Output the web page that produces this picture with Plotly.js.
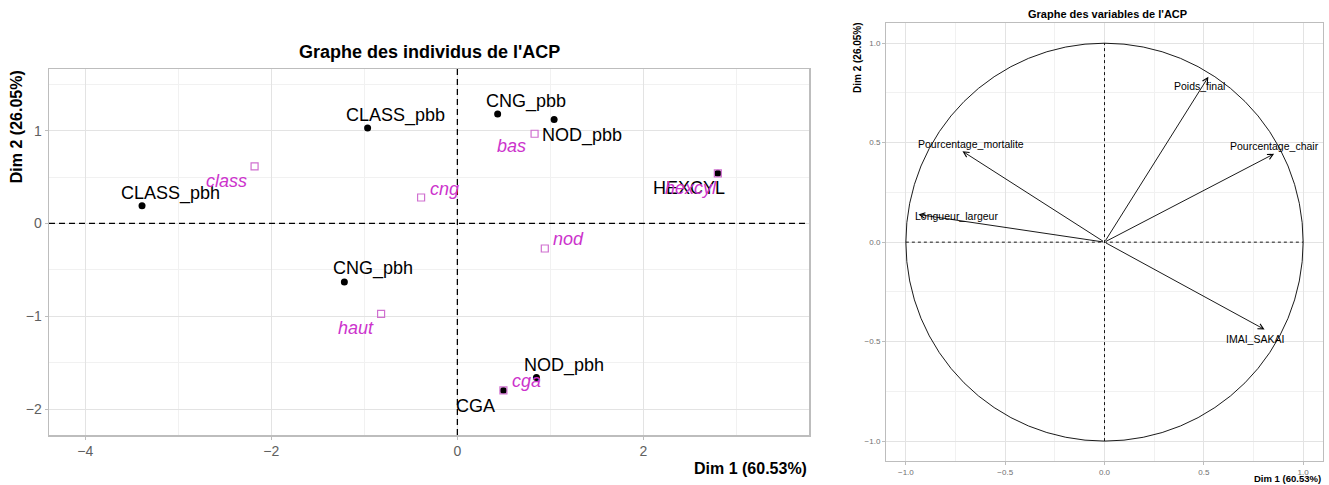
<!DOCTYPE html>
<html><head><meta charset="utf-8">
<script src="https://cdn.plot.ly/plotly-3.0.1.min.js"></script>
<style>html,body{margin:0;padding:0;background:#fff}#chart{width:1329px;height:485px}</style>
</head><body><div id="chart"></div>
<script>
// ---- data: individuals (left plot) ----
const indNames = ['CLASS_pbh','CLASS_pbb','CNG_pbh','CNG_pbb','NOD_pbb','HEXCYL','NOD_pbh','CGA'];
const indX = [-3.39, -0.965, -1.215, 0.433, 1.04, 2.80, 0.85, 0.495];
const indY = [0.19, 1.03, -0.63, 1.18, 1.12, 0.54, -1.66, -1.80];
// ---- data: qualitative categories (left plot) ----
const catNames = ['class','cng','bas','nod','haut','hexcyl','cga'];
const catX = [-2.18, -0.39, 0.83, 0.94, -0.82, 2.80, 0.495];
const catY = [0.615, 0.28, 0.967, -0.27, -0.975, 0.54, -1.80];
// ---- data: variables (right plot) ----
const varNames = ['Poids_final','Pourcentage_chair','Pourcentage_mortalite','Longueur_largeur','IMAI_SAKAI'];
const varX = [0.523, 0.854, -0.715, -0.937, 0.806];
const varY = [0.831, 0.444, 0.457, 0.139, -0.439];
// axis titles / plot titles
const leftTitle = "Graphe des individus de l'ACP";
const rightTitle = "Graphe des variables de l'ACP";
const dim1Label = 'Dim 1 (60.53%)';
const dim2Label = 'Dim 2 (26.05%)';

// ---- styles: label offsets in pixels (repel-like placement) ----
const indShift = [[28,12],[28,12],[29,13],[28,12],[28,-16],[-29,-15],[28,12],[-28,-16]];
const catShift = [[-28,-15],[23,8],[-23,-12],[24,10],[-25,-14],[-27,-15],[23,9]];
const varShift = [[-9,-9],[0,8],[9,7],[38,-2],[-10,-10]];

const FONT = 'Liberation Sans, Arial, sans-serif';
const MAG = '#CC33CC';

const traces = [
  {x: indX, y: indY, type:'scatter', mode:'markers', xaxis:'x', yaxis:'y',
   marker:{color:'#000', size:7, symbol:'circle'}, hoverinfo:'skip'},
  {x: catX, y: catY, type:'scatter', mode:'markers', xaxis:'x', yaxis:'y',
   marker:{color:'#D070D0', size:7, symbol:'square-open', line:{width:1.2, color:'#D070D0'}}, hoverinfo:'skip'}
];

const ann = [];
indNames.forEach((n,i)=>ann.push({x:indX[i], y:indY[i], xref:'x', yref:'y', text:n, showarrow:false,
  xshift:indShift[i][0], yshift:indShift[i][1], font:{family:FONT, size:18, color:'#000'}}));
catNames.forEach((n,i)=>ann.push({x:catX[i], y:catY[i], xref:'x', yref:'y', text:'<i>'+n+'</i>', showarrow:false,
  xshift:catShift[i][0], yshift:catShift[i][1], font:{family:FONT, size:18, color:MAG}}));
// arrows for variables
varNames.forEach((n,i)=>{
  ann.push({x:varX[i], y:varY[i], xref:'x2', yref:'y2', ax:0, ay:0, axref:'x2', ayref:'y2',
    text:'', showarrow:true, arrowhead:5, arrowsize:1.2, arrowwidth:0.9, arrowcolor:'#000', standoff:0});
  ann.push({x:varX[i], y:varY[i], xref:'x2', yref:'y2', text:n, showarrow:false,
    xshift:varShift[i][0], yshift:varShift[i][1], font:{family:FONT, size:10.5, color:'#000'}});
});
// titles
ann.push({x:429/1329, y:1-52/485, xref:'paper', yref:'paper', text:'<b>'+leftTitle+'</b>', showarrow:false,
  xanchor:'center', yanchor:'middle', font:{family:FONT, size:18, color:'#000'}});
ann.push({x:1107.5/1329, y:1-13.5/485, xref:'paper', yref:'paper', text:'<b>'+rightTitle+'</b>', showarrow:false,
  xanchor:'center', yanchor:'middle', font:{family:FONT, size:11, color:'#000'}});
ann.push({x:16.7/1329, y:1-126.5/485, xref:'paper', yref:'paper', text:'<b>'+dim2Label+'</b>', showarrow:false,
  textangle:-90, xanchor:'center', yanchor:'middle', font:{family:FONT, size:16, color:'#000'}});
ann.push({x:809/1329, y:1-468/485, xref:'paper', yref:'paper', text:'<b>'+dim1Label+'</b>', showarrow:false,
  xanchor:'right', yanchor:'middle', font:{family:FONT, size:16, color:'#000'}});
ann.push({x:857/1329, y:1-57/485, xref:'paper', yref:'paper', text:'<b>'+dim2Label+'</b>', showarrow:false,
  textangle:-90, xanchor:'center', yanchor:'middle', font:{family:FONT, size:10, color:'#000'}});
ann.push({x:1323/1329, y:0, xref:'paper', yref:'paper', text:'<b>'+dim1Label+'</b>', showarrow:false,
  xanchor:'right', yanchor:'bottom', yshift:-1, font:{family:FONT, size:9.5, color:'#000'}});

const shapes = [
  {type:'line', xref:'x', yref:'y domain', x0:0, x1:0, y0:0, y1:1, line:{color:'#000', width:1.3, dash:'6px,4px'}},
  {type:'line', xref:'x domain', yref:'y', x0:0, x1:1, y0:0, y1:0, line:{color:'#000', width:1.3, dash:'6px,4px'}},
  {type:'circle', xref:'x2', yref:'y2', x0:-1, x1:1, y0:-1, y1:1, line:{color:'#000', width:0.9}},
  {type:'line', xref:'x2', yref:'y2', x0:0, x1:0, y0:-1, y1:1, line:{color:'#000', width:0.9, dash:'3px,3px'}},
  {type:'line', xref:'x2', yref:'y2', x0:-1, x1:1, y0:0, y1:0, line:{color:'#000', width:0.9, dash:'3px,3px'}}
];

const axBase = {showline:true, mirror:true, linecolor:'#BDBDBD', linewidth:1.5, zeroline:false,
  showgrid:true, gridcolor:'#E3E3E3', gridwidth:1, ticks:'outside', ticklen:3, tickcolor:'#BDBDBD'};

const layout = {
  width:1329, height:485, margin:{l:0,r:0,t:0,b:0}, paper_bgcolor:'#fff', plot_bgcolor:'#fff',
  showlegend:false, font:{family:FONT},
  xaxis: Object.assign({}, axBase, {domain:[49/1329, 809/1329], anchor:'y', range:[-4.39, 3.78], dtick:2, tick0:0,
    tickfont:{family:FONT, size:14, color:'#606060'}, minor:{dtick:1, tick0:0, showgrid:true, gridcolor:'#F1F1F1', ticks:''}}),
  yaxis: Object.assign({}, axBase, {domain:[1-435/485, 1-69/485], anchor:'x', range:[-2.28, 1.665], dtick:1, tick0:0,
    tickfont:{family:FONT, size:14, color:'#606060'}, minor:{dtick:0.5, tick0:0, showgrid:true, gridcolor:'#F1F1F1', ticks:''}}),
  xaxis2: Object.assign({}, axBase, {domain:[886/1329, 1323/1329], anchor:'y2', range:[-1.1, 1.1], dtick:0.5, tick0:0, tickformat:'.1f',
    linewidth:1, tickfont:{family:FONT, size:8, color:'#707070'}, minor:{dtick:0.25, tick0:0, showgrid:true, gridcolor:'#F1F1F1', ticks:''}}),
  yaxis2: Object.assign({}, axBase, {domain:[1-461/485, 1-23.3/485], anchor:'x2', range:[-1.1, 1.1], dtick:0.5, tick0:0, tickformat:'.1f',
    linewidth:1, tickfont:{family:FONT, size:8, color:'#707070'}, minor:{dtick:0.25, tick0:0, showgrid:true, gridcolor:'#F1F1F1', ticks:''}}),
  annotations: ann, shapes: shapes
};

Plotly.newPlot('chart', traces, layout, {staticPlot:true, displayModeBar:false});
</script>
</body></html>
